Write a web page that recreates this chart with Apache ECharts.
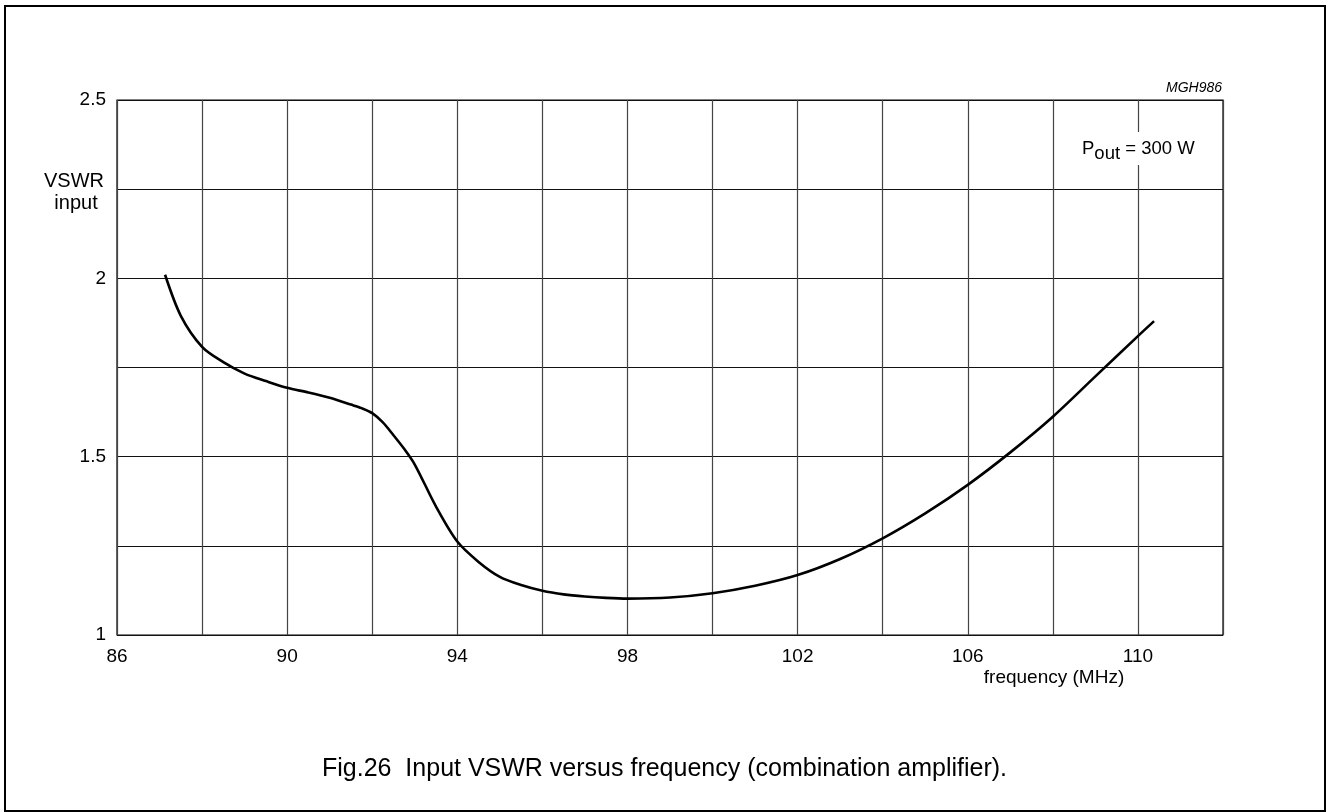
<!DOCTYPE html>
<html>
<head>
<meta charset="utf-8">
<script src="https://cdn.jsdelivr.net/npm/echarts@6/dist/echarts.min.js"></script>
<style>
html,body{margin:0;padding:0;background:#fff;}
#chart{width:1327px;height:812px;}
</style>
</head>
<body>
<div id="chart"></div>
<script>
// Data
var freq = [87.13, 87.5, 88.0, 88.5, 89.0, 89.5, 90.0, 90.5, 91.0, 91.5, 91.75, 92.0, 92.25, 92.5, 92.75, 93.0, 93.5, 94.0, 94.5, 95.0, 95.5, 96.0, 96.5, 97.0, 97.5, 98.0, 99.0, 100.0, 101.0, 102.0, 103.0, 104.0, 105.0, 106.0, 107.0, 108.0, 109.0, 110.0, 110.38];
var vswr = [2.01, 1.895, 1.808, 1.765, 1.733, 1.712, 1.693, 1.680, 1.665, 1.646, 1.636, 1.622, 1.596, 1.560, 1.522, 1.478, 1.360, 1.262, 1.205, 1.163, 1.140, 1.124, 1.114, 1.108, 1.104, 1.102, 1.105, 1.117, 1.138, 1.168, 1.213, 1.271, 1.341, 1.421, 1.512, 1.612, 1.725, 1.838, 1.88];
var xTickLabels = [86, 90, 94, 98, 102, 106, 110];
var yTickLabels = [1, 1.5, 2, 2.5];

var FONT = 'Liberation Sans, Arial, sans-serif';
var chart = echarts.init(document.getElementById('chart'), null, {renderer: 'canvas'});
var pts = freq.map(function (f, i) { return [f, vswr[i]]; });

chart.setOption({
  animation: false,
  backgroundColor: '#fff',
  grid: {left: 117, top: 100, right: 104, bottom: 177, show: true, borderColor: '#000', borderWidth: 1.2, backgroundColor: 'transparent'},
  xAxis: {
    type: 'value', min: 86, max: 112, interval: 2,
    axisLine: {show: false}, axisTick: {show: false},
    splitLine: {show: true, lineStyle: {color: '#444', width: 1.2}},
    axisLabel: {
      color: '#000', fontFamily: FONT, fontSize: 19, margin: 12,
      formatter: function (v) { return xTickLabels.indexOf(v) >= 0 ? String(v) : ''; }
    }
  },
  yAxis: {
    type: 'value', min: 1, max: 2.5, interval: 0.25,
    axisLine: {show: false}, axisTick: {show: false},
    splitLine: {show: true, lineStyle: {color: '#111', width: 1.2}},
    axisLabel: {
      color: '#000', fontFamily: FONT, fontSize: 19, margin: 11,
      formatter: function (v) { return yTickLabels.indexOf(v) >= 0 ? String(v) : ''; }
    }
  },
  series: [{
    type: 'line', data: pts, smooth: 0.3, symbol: 'none',
    lineStyle: {color: '#000', width: 2.6}, z: 5
  }],
  graphic: [
    {type: 'rect', shape: {x: 5, y: 6, width: 1320, height: 805}, style: {fill: 'none', stroke: '#000', lineWidth: 2}, silent: true},
    {type: 'text', x: 74, y: 181, style: {text: 'VSWR', align: 'center', verticalAlign: 'middle', fontFamily: FONT, fontSize: 20, fill: '#000'}},
    {type: 'text', x: 76, y: 203, style: {text: 'input', align: 'center', verticalAlign: 'middle', fontFamily: FONT, fontSize: 20, fill: '#000'}},
    {type: 'text', x: 1222, y: 88, style: {text: 'MGH986', align: 'right', verticalAlign: 'middle', fontFamily: FONT, fontSize: 14, fontStyle: 'italic', fill: '#000'}},
    {type: 'text', x: 1054, y: 678, style: {text: 'frequency (MHz)', align: 'center', verticalAlign: 'middle', fontFamily: FONT, fontSize: 19, fill: '#000'}},
    {type: 'text', left: 1078, top: 132, z: 10, style: {
      rich: {
        a: {fontFamily: FONT, fontSize: 18.5, fill: '#000', color: '#000'},
        s: {fontFamily: FONT, fontSize: 18.5, fill: '#000', color: '#000', padding: [10, 0, 0, 0]}
      },
      text: '{a|P}{s|out}{a| = 300 W}',
      backgroundColor: '#fff', padding: [2, 4, 2, 4]
    }},
    {type: 'text', x: 322, y: 769, style: {text: 'Fig.26  Input VSWR versus frequency (combination amplifier).', align: 'left', verticalAlign: 'middle', fontFamily: FONT, fontSize: 25, fill: '#000'}}
  ]
});
</script>
</body>
</html>
